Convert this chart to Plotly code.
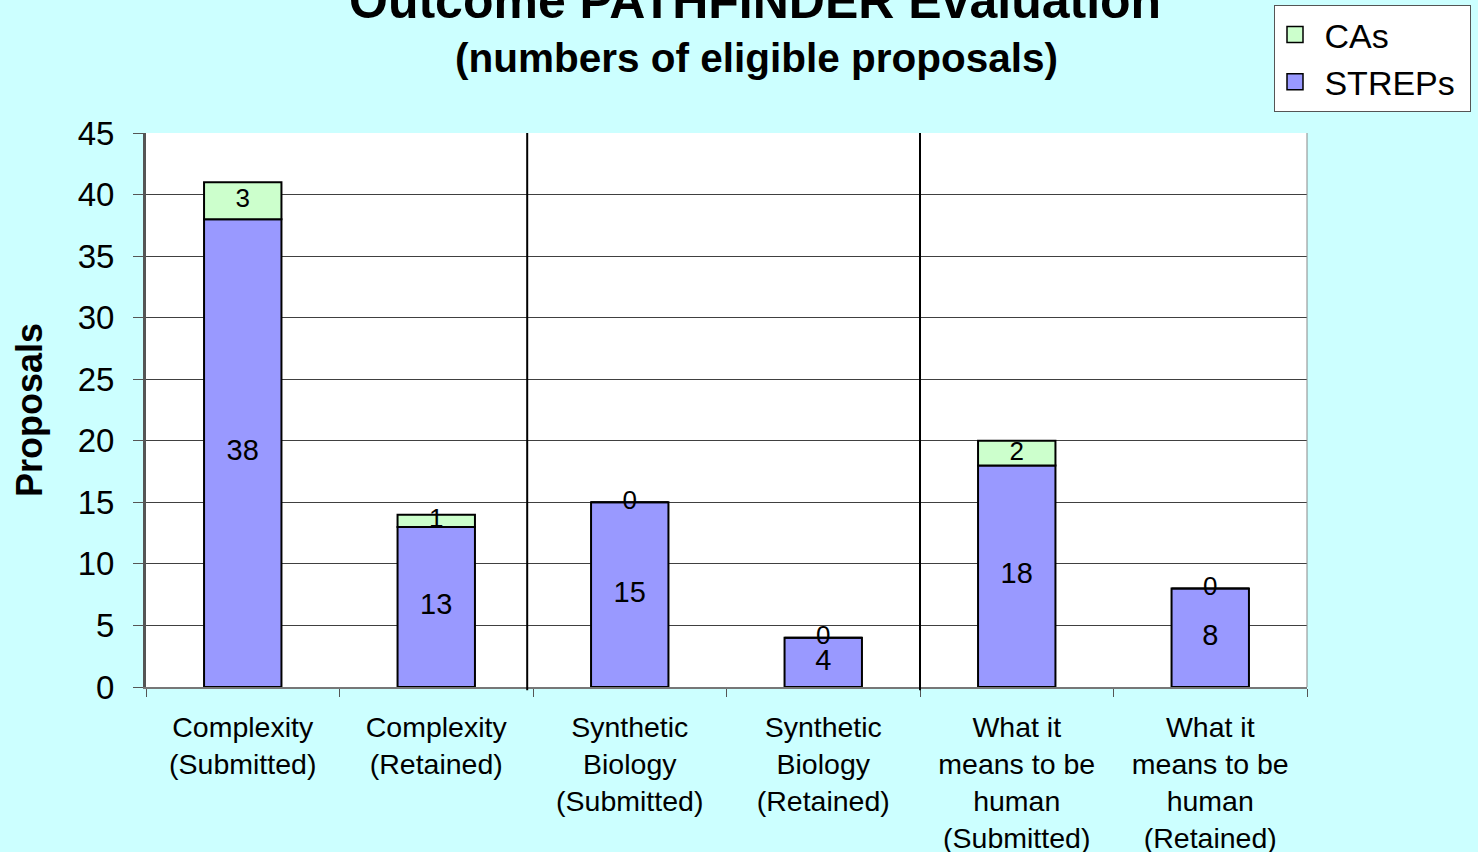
import plotly.graph_objects as go

categories = ["Complexity<br>(Submitted)", "Complexity<br>(Retained)",
              "Synthetic<br>Biology<br>(Submitted)", "Synthetic<br>Biology<br>(Retained)",
              "What it<br>means to be<br>human<br>(Submitted)", "What it<br>means to be<br>human<br>(Retained)"]
streps = [38, 13, 15, 4, 18, 8]
cas = [3, 1, 0, 0, 2, 0]
y_ticks = [0, 5, 10, 15, 20, 25, 30, 35, 40, 45]
separators = [1.47, 3.5]

FONT = "Liberation Sans, Arial, sans-serif"
C_STREPS = "#9999FF"
C_CAS = "#CCFFCC"
NB = "\u00a0"

# plot-area geometry (pixels)
L, R, T, B = 146, 1307, 133, 687
W, H = R - L, B - T

fig = go.Figure()
fig.add_trace(go.Bar(name="STREPs", x=categories, y=streps, marker_color=C_STREPS,
                     marker_line_color="black", marker_line_width=2, width=0.4, showlegend=False))
fig.add_trace(go.Bar(name="CAs", x=categories, y=cas, base=streps, marker_color=C_CAS,
                     marker_line_color="black", marker_line_width=2, width=0.4, showlegend=False))

# legend entries (square swatches)
fig.add_trace(go.Scatter(name=NB + "STREPs" + NB, x=[None], y=[None], mode="markers",
                         marker=dict(symbol="square", size=16, color=C_STREPS,
                                     line=dict(color="black", width=1.5))))
fig.add_trace(go.Scatter(name=NB + "CAs", x=[None], y=[None], mode="markers",
                         marker=dict(symbol="square", size=16, color=C_CAS,
                                     line=dict(color="black", width=1.5))))

# labels centered in each segment
fig.add_trace(go.Scatter(x=categories, y=[s / 2 for s in streps], mode="text",
                         text=[str(v) for v in streps], textfont=dict(size=29, color="black", family=FONT),
                         showlegend=False, hoverinfo="skip", cliponaxis=False))
fig.add_trace(go.Scatter(x=categories, y=[s + c / 2 for s, c in zip(streps, cas)], mode="text",
                         text=[str(v) for v in cas], textfont=dict(size=26, color="black", family=FONT),
                         showlegend=False, hoverinfo="skip", cliponaxis=False))

for sx in separators:
    fig.add_shape(type="line", xref="x", yref="paper", x0=sx, x1=sx, y0=-0.006, y1=1,
                  line=dict(color="black", width=2))

fig.add_annotation(text="<b>Outcome PATHFINDER Evaluation</b>", xref="paper", yref="paper",
                   x=(755 - L) / W, y=(B - 1) / H, xanchor="center", yanchor="middle", showarrow=False,
                   font=dict(size=50, color="black", family=FONT))
fig.add_annotation(text="<b>(numbers of eligible proposals)</b>", xref="paper", yref="paper",
                   x=(756 - L) / W, y=(B - 58) / H, xanchor="center", yanchor="middle", showarrow=False,
                   font=dict(size=40.5, color="black", family=FONT))
fig.add_annotation(text="<b>Proposals</b>", xref="paper", yref="paper",
                   x=(29 - L) / W, y=(B - 410) / H, xanchor="center", yanchor="middle",
                   textangle=-90, showarrow=False, font=dict(size=36, color="black", family=FONT))

fig.update_layout(
    barmode="overlay",
    width=1478, height=852,
    paper_bgcolor="#CCFFFF", plot_bgcolor="white",
    margin=dict(l=L, r=1478 - R, t=T, b=852 - B, autoexpand=False),
    font=dict(family=FONT, color="black"),
    legend=dict(x=(1274 - L) / W, y=(B - 5) / H,
                xanchor="left", yanchor="top", bgcolor="white",
                bordercolor="#555555", borderwidth=1, font=dict(size=34, family=FONT),
                traceorder="reversed", itemsizing="trace", tracegroupgap=0),
    showlegend=True,
)
fig.update_yaxes(range=[0, 45], tickvals=y_ticks, showgrid=True, gridcolor="#404040", gridwidth=1,
                 showline=True, linecolor="#555555", linewidth=3, ticks="outside", ticklen=10,
                 tickcolor="#555555", tickfont=dict(size=33, family=FONT), ticklabelstandoff=12,
                 zeroline=False, automargin=False)
fig.update_xaxes(showline=True, linecolor="#777777", linewidth=2, ticks="outside", tickson="boundaries",
                 ticklen=8, tickcolor="#555555", tickfont=dict(size=28.5, family=FONT), tickangle=0,
                 ticklabelstandoff=14, automargin=False)
fig.add_shape(type="line", xref="paper", yref="paper", x0=1, x1=1, y0=0, y1=1,
              line=dict(color="#888888", width=1))

fig.write_html("out.html", config={"displayModeBar": False},
               post_script="document.body.style.margin='0';document.body.style.background='#CCFFFF';")
